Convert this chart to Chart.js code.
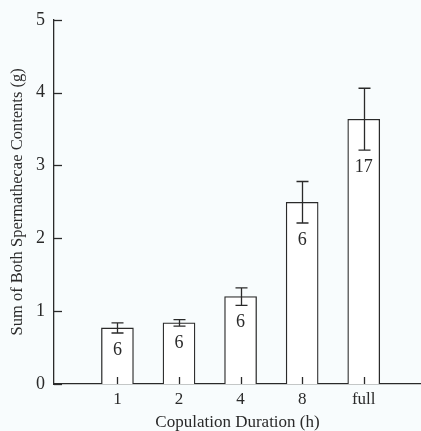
<!DOCTYPE html>
<html>
<head>
<meta charset="utf-8">
<script src="https://cdn.jsdelivr.net/npm/chart.js@4/dist/chart.umd.min.js"></script>
<style>
  html, body { margin: 0; padding: 0; background: #f8fcfd; }
  #wrap { width: 421px; height: 431px; position: relative; }
</style>
</head>
<body>
<div id="wrap"><canvas id="bars"></canvas></div>
<script>
// --- Data ---
const durations = ['1', '2', '4', '8', 'full'];
const means = [0.77, 0.84, 1.20, 2.495, 3.635];
const errs = [0.07, 0.045, 0.12, 0.285, 0.425];
const counts = [6, 6, 6, 6, 17];
const yTicks = [0, 1, 2, 3, 4, 5];

const ink = '#2a2a2a';
const serif = 'Liberation Serif';

// error bars, inward tick marks and sample sizes
const extras = {
  id: 'extras',
  afterDatasetsDraw(chart) {
    const ctx = chart.ctx;
    const x = chart.scales.x;
    const y = chart.scales.y;
    const meta = chart.getDatasetMeta(0);
    ctx.save();
    ctx.strokeStyle = ink;
    ctx.lineWidth = 1.3;

    // y ticks point into the plot
    yTicks.forEach(v => {
      const py = Math.round(y.getPixelForValue(v)) + 0.5;
      ctx.beginPath();
      ctx.moveTo(x.left, py);
      ctx.lineTo(x.left + 8, py);
      ctx.stroke();
    });

    meta.data.forEach((bar, i) => {
      const px = Math.round(bar.x) + 0.5;
      // small x tick inside the bar
      ctx.beginPath();
      ctx.moveTo(px, y.bottom);
      ctx.lineTo(px, y.bottom - 7);
      ctx.stroke();

      const top = y.getPixelForValue(means[i] + errs[i]);
      const bot = y.getPixelForValue(means[i] - errs[i]);
      ctx.beginPath();
      ctx.moveTo(px, top);
      ctx.lineTo(px, bot);
      ctx.moveTo(px - 6, top);
      ctx.lineTo(px + 6, top);
      ctx.moveTo(px - 6, bot);
      ctx.lineTo(px + 6, bot);
      ctx.stroke();

      ctx.fillStyle = ink;
      ctx.font = '18px "' + serif + '"';
      ctx.textAlign = 'center';
      ctx.textBaseline = 'middle';
      ctx.fillText(String(counts[i]), bar.x, bot + 17);
    });
    ctx.restore();
  }
};

new Chart(document.getElementById('bars'), {
  type: 'bar',
  data: {
    datasets: [{
      data: means.map((v, i) => ({ x: i + 1, y: v })),
      backgroundColor: '#ffffff',
      borderColor: ink,
      borderWidth: 1.3,
      barThickness: 32
    }]
  },
  options: {
    responsive: true,
    maintainAspectRatio: false,
    animation: false,
    layout: { padding: { top: 13, right: 0, left: 0, bottom: 0 } },
    plugins: {
      legend: { display: false },
      tooltip: { enabled: false }
    },
    scales: {
      x: {
        type: 'linear',
        offset: false,
        min: -0.03,
        max: 5.93,
        afterBuildTicks: s => { s.ticks = durations.map((_, i) => ({ value: i + 1 })); },
        afterFit: s => { s.height = 47; },
        grid: { display: false, drawTicks: false, offset: false },
        border: { display: true, color: ink, width: 1.3 },
        ticks: {
          padding: 5,
          color: ink,
          font: { family: serif, size: 17 },
          callback: v => durations[v - 1] || ''
        },
        title: {
          display: true,
          text: 'Copulation Duration (h)',
          color: ink,
          font: { family: serif, size: 17 },
          padding: { top: 0, bottom: -2 }
        }
      },
      y: {
        min: 0,
        max: 5,
        afterBuildTicks: s => { s.ticks = yTicks.map(v => ({ value: v })); },
        afterFit: s => { s.width = 54; },
        grid: { display: false, drawTicks: false },
        border: { display: true, color: ink, width: 1.3 },
        ticks: {
          padding: 9,
          color: ink,
          font: { family: serif, size: 18 }
        },
        title: {
          display: true,
          text: 'Sum of Both Spermathecae Contents (g)',
          color: ink,
          font: { family: serif, size: 16.5 },
          padding: { top: 8, bottom: 0 }
        }
      }
    }
  },
  plugins: [extras]
});
</script>
</body>
</html>
